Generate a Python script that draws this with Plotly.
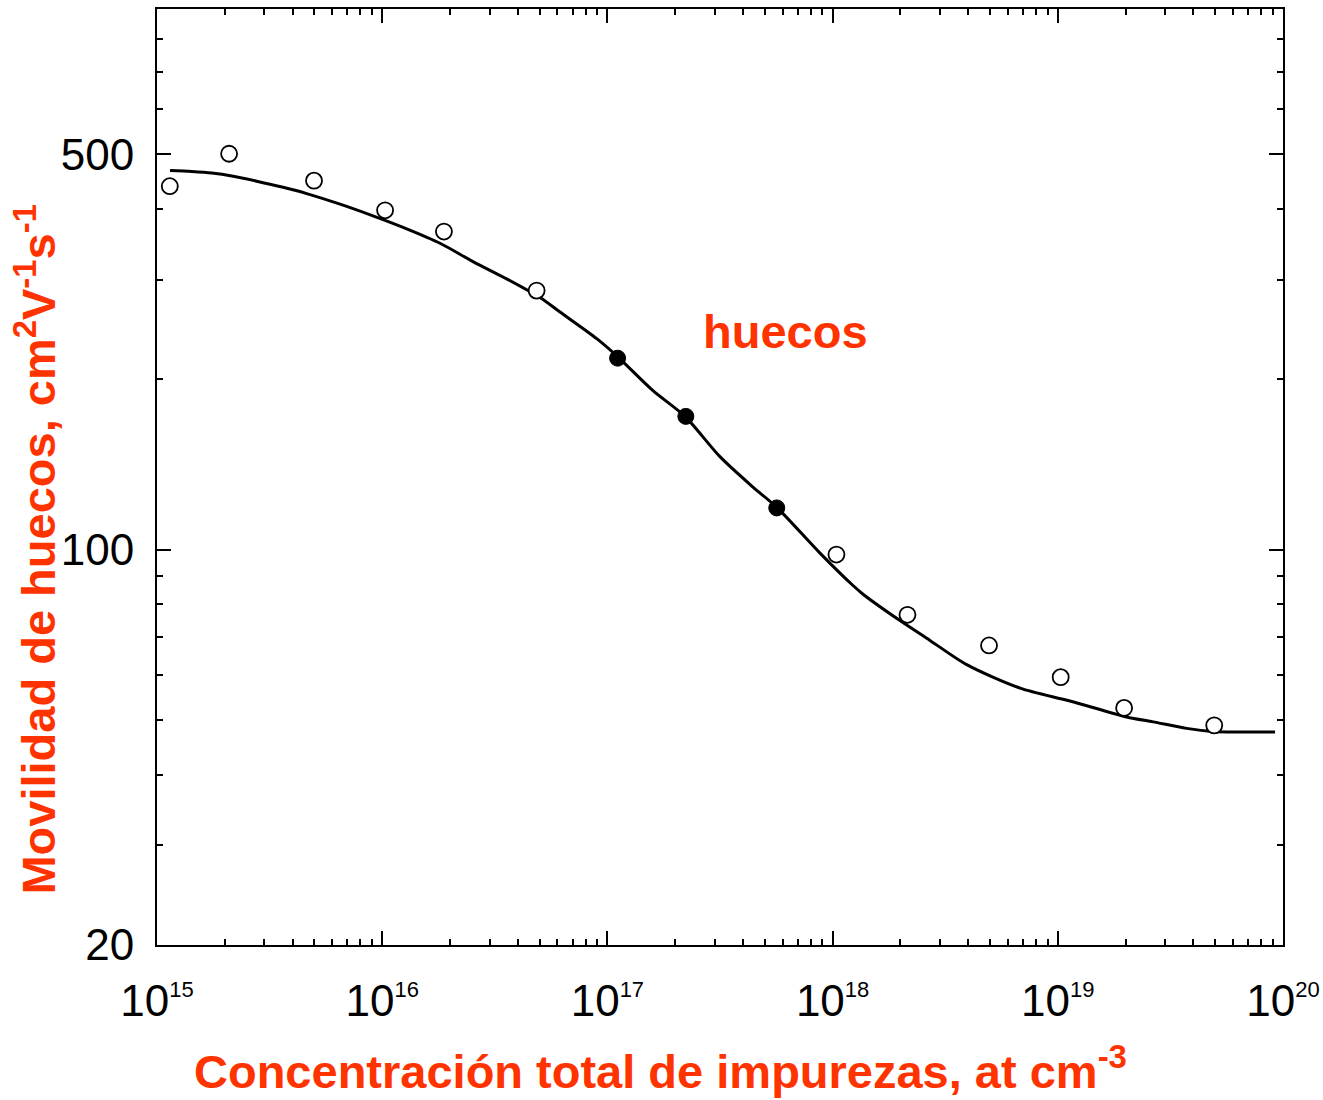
import plotly.graph_objects as go

# Fitted curve
curve_x = [1.142e15, 1.426e15, 1.75e15, 2.18e15, 2.77e15, 3.63e15, 4.62e15, 6.50e15, 9.10e15,
           1.285e16, 1.806e16, 2.53e16, 3.57e16, 5.02e16, 6.16e16, 8.97e16, 1.115e17, 1.594e17,
           2.21e17, 3.16e17, 4.43e17, 5.65e17, 8.79e17, 1.232e18, 1.365e18, 1.992e18, 2.707e18,
           3.94e18, 6.80e18, 1.133e19, 2.02e19, 2.65e19, 3.73e19, 4.89e19, 9.22e19]
curve_y = [468, 466, 463, 457, 448, 437, 426, 408, 389,
           369, 348, 323, 301, 279, 263, 236, 219, 191,
           172, 146, 129, 118.8, 98.6, 86.4, 83.4, 74.9, 69.1,
           62.6, 56.9, 54.0, 50.6, 49.6, 48.3, 47.7, 47.6]

# Open-circle measurements
open_x = [1.14e15, 2.09e15, 4.98e15, 1.03e16, 1.88e16, 4.85e16,
          1.04e18, 2.15e18, 4.95e18, 1.03e19, 1.97e19, 4.95e19]
open_y = [439, 501, 449, 398, 365, 287,
          98.0, 76.7, 67.7, 59.5, 52.5, 48.9]

# Filled-circle measurements
filled_x = [1.11e17, 2.23e17, 5.65e17]
filled_y = [218, 172, 118.5]

x_tickvals = [1e15, 1e16, 1e17, 1e18, 1e19, 1e20]
x_exponents = ["15", "16", "17", "18", "19", "20"]
y_tickvals = [20, 100, 500]
y_ticktext = ["20", "100", "500"]
y_minor = [30, 40, 50, 60, 70, 80, 90, 200, 300, 400, 600, 700, 800]
x_minor = [float(m) * 10.0 ** e for e in range(15, 20) for m in range(2, 10)]

RED = "#FF3300"
FONT = "Arial, Liberation Sans, sans-serif"

fig = go.Figure()
fig.add_trace(go.Scatter(x=curve_x, y=curve_y, mode="lines",
                         line=dict(color="black", width=3, shape="spline", smoothing=0.8),
                         showlegend=False))
fig.add_trace(go.Scatter(x=open_x, y=open_y, mode="markers",
                         marker=dict(symbol="circle", size=16, color="white",
                                     line=dict(color="black", width=1.8)),
                         showlegend=False))
fig.add_trace(go.Scatter(x=filled_x, y=filled_y, mode="markers",
                         marker=dict(symbol="circle", size=16, color="black",
                                     line=dict(color="black", width=1)),
                         showlegend=False))

x_ticktext = [f"10<sup><span style='font-size:22px'>{e}</span></sup>" for e in x_exponents]

axis_common = dict(showline=True, linecolor="black", linewidth=2, mirror="allticks",
                   ticks="inside", ticklen=14, tickwidth=2, tickcolor="black",
                   showgrid=False, zeroline=False, automargin=False,
                   tickfont=dict(family=FONT, size=44, color="black"))

fig.update_xaxes(type="log", range=[15, 20], tickvals=x_tickvals, ticktext=x_ticktext,
                 minor=dict(tickvals=x_minor, ticks="inside", ticklen=6, tickwidth=2,
                            tickcolor="black", showgrid=False),
                 ticklabelstandoff=16, **axis_common)
fig.update_yaxes(type="log", range=[1.30103, 2.9557], tickvals=y_tickvals, ticktext=y_ticktext,
                 minor=dict(tickvals=y_minor, ticks="inside", ticklen=6, tickwidth=2,
                            tickcolor="black", showgrid=False),
                 ticklabelstandoff=12, **axis_common)

fig.add_annotation(text="Concentración total de impurezas, at cm<sup>-3</sup>",
                   xref="paper", yref="paper", x=0.4476, y=-0.131,
                   xanchor="center", yanchor="middle", showarrow=False,
                   font=dict(family=FONT, size=47, color=RED, weight="bold"))
fig.add_annotation(text="Movilidad de huecos, cm<sup>2</sup>V<sup>-1</sup>s<sup>-1</sup>",
                   xref="paper", yref="paper", x=-0.1083, y=0.4225, textangle=-90,
                   xanchor="center", yanchor="middle", showarrow=False,
                   font=dict(family=FONT, size=47, color=RED, weight="bold"))
fig.add_annotation(text="huecos", xref="paper", yref="paper", x=0.558, y=0.6556,
                   xanchor="center", yanchor="middle", showarrow=False,
                   font=dict(family=FONT, size=47, color=RED, weight="bold"))

fig.update_layout(width=1323, height=1100, margin=dict(l=157, r=40, t=9, b=155),
                  paper_bgcolor="white", plot_bgcolor="white",
                  font=dict(family=FONT))

fig.write_html("out.html")
